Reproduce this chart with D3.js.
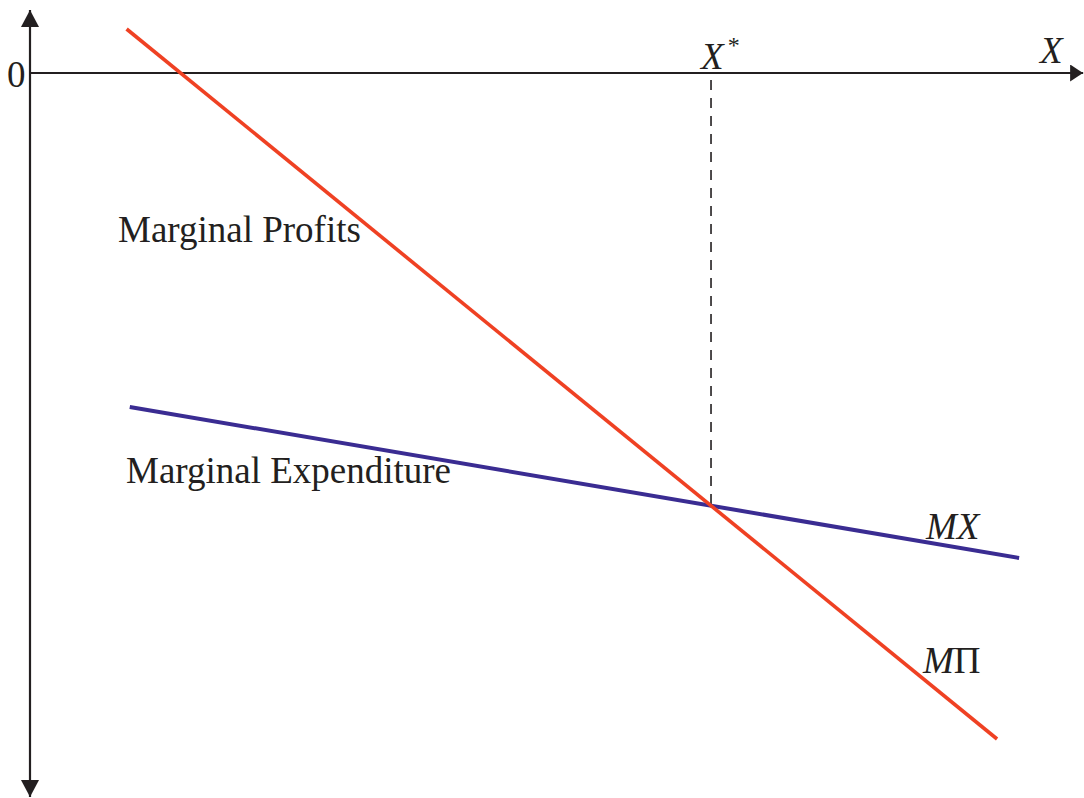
<!DOCTYPE html>
<html>
<head>
<meta charset="utf-8">
<script src="https://cdn.jsdelivr.net/npm/d3@7"></script>
<style>
  body { margin: 0; background: #fff; }
  text { font-family: "Liberation Serif", "DejaVu Serif", serif; fill: #231f20; }
</style>
</head>
<body>
<div class="chart-container"></div>
<script>
// courbes (unités arbitraires : x vers la droite, y négatif vers le bas)
const marginalProfits = [{ x: 9.2, y: 4.4 }, { x: 92.1, y: -66.6 }];
const marginalExpenditure = [{ x: 9.5, y: -33.4 }, { x: 94.2, y: -48.5 }];
const axisX = [0, 100.3];
const axisY = [6.3, -72.4];

const width = 1084, height = 798;

const svg = d3.select('.chart-container')
    .append('svg')
    .attr('width', width)
    .attr('height', height);

// échelles
const xScale = d3.scaleLinear().domain([0, 100]).range([30, 1080]);
const yScale = d3.scaleLinear().domain([0, -70]).range([73, 773]);

const ink = '#231f20';

// flèches
const defs = svg.append('defs');
defs.append('marker')
    .attr('id', 'arrowH')
    .attr('viewBox', '0 0 13 17')
    .attr('refX', 13).attr('refY', 8.5)
    .attr('markerWidth', 13).attr('markerHeight', 17)
    .attr('markerUnits', 'userSpaceOnUse')
    .attr('orient', 'auto')
    .append('path')
    .attr('d', 'M0,0L13,8.5L0,17Z')
    .attr('fill', ink);
defs.append('marker')
    .attr('id', 'arrowV')
    .attr('viewBox', '0 0 17 18')
    .attr('refX', 17).attr('refY', 9)
    .attr('markerWidth', 17).attr('markerHeight', 18)
    .attr('markerUnits', 'userSpaceOnUse')
    .attr('orient', 'auto')
    .append('path')
    .attr('d', 'M0,0L17,9L0,18Z')
    .attr('fill', ink);

// axe vertical : deux demi-axes partant de l'origine
[axisY[0], axisY[1]].forEach(v => {
    svg.append('line')
        .attr('x1', xScale(0)).attr('x2', xScale(0))
        .attr('y1', yScale(0)).attr('y2', yScale(v))
        .attr('stroke', ink).attr('stroke-width', 2.2)
        .attr('marker-end', 'url(#arrowV)');
});

// axe horizontal
svg.append('line')
    .attr('x1', xScale(axisX[0])).attr('x2', xScale(axisX[1]))
    .attr('y1', yScale(0)).attr('y2', yScale(0))
    .attr('stroke', ink).attr('stroke-width', 2.2)
    .attr('marker-end', 'url(#arrowH)');

// intersection des deux droites -> X*
function lineAt(pts) {
    const m = (pts[1].y - pts[0].y) / (pts[1].x - pts[0].x);
    return { m, b: pts[0].y - m * pts[0].x };
}
const lp = lineAt(marginalProfits), le = lineAt(marginalExpenditure);
const xStar = (le.b - lp.b) / (lp.m - le.m);
const yStar = lp.m * xStar + lp.b;

// pointillé vertical
svg.append('line')
    .attr('x1', xScale(xStar)).attr('x2', xScale(xStar))
    .attr('y1', yScale(-0.7)).attr('y2', yScale(yStar))
    .attr('stroke', ink).attr('stroke-width', 1.6)
    .attr('stroke-dasharray', '10,8');

const line = d3.line().x(d => xScale(d.x)).y(d => yScale(d.y));

svg.append('path')
    .datum(marginalExpenditure)
    .attr('d', line)
    .attr('fill', 'none')
    .attr('stroke', '#3a2c92')
    .attr('stroke-width', 4);

svg.append('path')
    .datum(marginalProfits)
    .attr('d', line)
    .attr('fill', 'none')
    .attr('stroke', '#ef4123')
    .attr('stroke-width', 3.6);

// textes
svg.append('text').attr('x', 7).attr('y', 87)
    .attr('font-size', 37).text('0');

svg.append('text').attr('x', 1040).attr('y', 63)
    .attr('font-size', 37).attr('font-style', 'italic').text('X');

const xs = svg.append('text').attr('x', xScale(xStar) - 10).attr('y', 69)
    .attr('font-size', 37);
xs.append('tspan').attr('font-style', 'italic').text('X');
xs.append('tspan').attr('font-size', 24).attr('dy', -16).attr('dx', 4).text('*');

svg.append('text').attr('x', 118).attr('y', 242)
    .attr('font-size', 37).text('Marginal Profits');

svg.append('text').attr('x', 126).attr('y', 483)
    .attr('font-size', 37).text('Marginal Expenditure');

svg.append('text').attr('x', 926).attr('y', 539)
    .attr('font-size', 37).attr('font-style', 'italic').text('MX');

const mp = svg.append('text').attr('x', 923).attr('y', 673)
    .attr('font-size', 37);
mp.append('tspan').attr('font-style', 'italic').text('M');
mp.append('tspan').text('Π');
</script>
</body>
</html>
